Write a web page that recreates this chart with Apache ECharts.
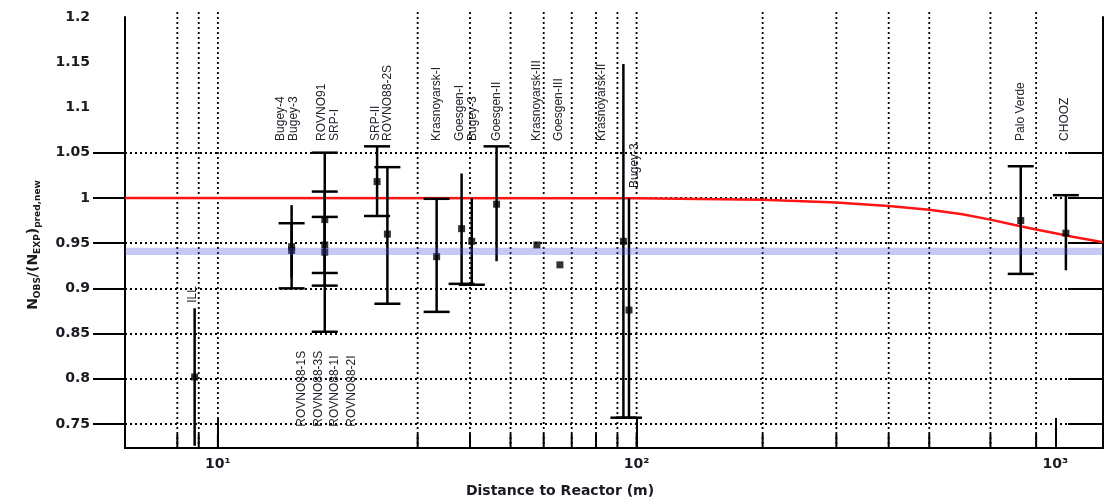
<!DOCTYPE html>
<html><head><meta charset="utf-8">
<script src="https://cdn.jsdelivr.net/npm/echarts@6/dist/echarts.min.js"></script>
<style>html,body{margin:0;padding:0;background:#fff}#c{width:1108px;height:502px}</style>
</head><body><div id="c"></div>
<script>
// ---------------- data ----------------
const yTickLabels = ['0.75','0.8','0.85','0.9','0.95','1','1.05','1.1','1.15','1.2'];
const yGridValues = [0.75,0.8,0.85,0.9,0.95,1.0,1.05];
const xGridValues = [8,9,10,30,40,50,60,70,80,90,100,200,300,400,500,700,900];
const xMajorLabels = ['10\u00b9','10\u00b2','10\u00b3'];

// experiments: distance (m), observed/predicted ratio, error-bar ends
const expDist  = [8.8, 15.0, 15.0, 18.0, 18.0, 18.0, 24.0, 25.4, 33.3, 38.2, 40.4, 46.3, 57.8, 65.6, 93.0, 95.9, 827, 1060];
const expRatio = [0.802,0.946,0.942,0.976,0.948,0.940,1.018,0.960,0.935,0.966,0.952,0.993,0.948,0.926,0.952,0.876,0.975,0.961];
const expLow   = [0.726,0.900,0.912,0.903,0.917,0.852,0.980,0.883,0.874,0.905,0.904,0.930,0.948,0.926,0.757,0.757,0.916,0.920];
const expHigh  = [0.878,0.992,0.972,1.050,0.979,1.007,1.057,1.034,0.999,1.027,1.000,1.057,0.948,0.926,1.148,1.000,1.035,1.003];

// experiment name labels and where they sit (data units)
const labelText  = ['ILL','Bugey-4','Bugey-3','ROVNO91','SRP-I','SRP-II','ROVNO88-2S','Krasnoyarsk-I','Goesgen-I','Bugey-3','Goesgen-II','Krasnoyarsk-III','Goesgen-III','Krasnoyarsk-II','Bugey-3','Palo Verde','CHOOZ','ROVNO88-1S','ROVNO88-3S','ROVNO88-1I','ROVNO88-2I'];
const labelDist  = [8.69,14.09,15.2,17.65,19.06,23.88,25.5,33.34,37.9,40.5,46.4,57.8,65.03,82.5,99.1,826.9,1053,15.87,17.36,19.06,20.89];
const labelRatio = [0.884,1.063,1.063,1.063,1.063,1.063,1.063,1.063,1.063,1.063,1.063,1.063,1.063,1.063,1.011,1.063,1.063,0.747,0.747,0.747,0.747];

// three-flavour expectation curve (red)
const redDist  = [6, 100, 200, 300, 400, 500, 600, 700, 800, 900, 1000, 1100, 1300];
const redRatio = [1.0, 0.9995, 0.998, 0.995, 0.991, 0.987, 0.982, 0.976, 0.970, 0.965, 0.961, 0.957, 0.951];

// mean band (blue)
const bandLow = 0.937, bandHigh = 0.945;

// ---------------- styling helpers ----------------
const capLow  = [0,1,0,1,1,1,1,1,1,1,1,0,0,0,1,1,1,0];
const capHigh = [0,0,1,1,1,1,1,1,1,0,0,1,0,0,0,0,1,1];
const yMin = 0.7235, yMax = 1.2, xMin = 6, xMax = 1300;
const black = '#000';
const txt = '#1a1a22';

const chart = echarts.init(document.getElementById('c'), null, {renderer: 'canvas'});

const option = {
  animation: false,
  backgroundColor: '#fff',
  grid: [
    {left: 125, right: 5, top: 17, bottom: 54, containLabel: false, outerBoundsMode: 'none'},
    {left: 125, right: 5, top: 152.7, bottom: 78, containLabel: false, outerBoundsMode: 'none'}
  ],
  xAxis: [
    {type: 'log', logBase: 10, gridIndex: 0, min: xMin, max: xMax,
     axisLine: {show: true, onZero: false, lineStyle: {color: black, width: 2}},
     axisTick: {show: true, inside: true, length: 30, lineStyle: {color: black, width: 2}},
     axisLabel: {margin: 9, color: txt, fontFamily: 'DejaVu Sans', fontWeight: 'bold', fontSize: 14,
       formatter: v => { const e = Math.log10(v); const r = Math.round(e);
         return (Math.abs(e - r) < 1e-6 && r >= 1 && r <= 3) ? xMajorLabels[r - 1] : ''; }},
     splitLine: {show: false}, minorTick: {show: false}, minorSplitLine: {show: false}},
    {type: 'value', gridIndex: 1, min: 0, max: 1, show: false}
  ],
  yAxis: [
    {type: 'value', gridIndex: 0, min: yMin, max: yMax, splitNumber: 10, position: 'left',
     axisLine: {show: true, onZero: false, lineStyle: {color: black, width: 2}},
     axisTick: {show: false}, splitLine: {show: false},
     axisLabel: {margin: 35, color: txt, fontFamily: 'DejaVu Sans', fontWeight: 'bold', fontSize: 14,
       formatter: v => { for (const s of yTickLabels) { if (Math.abs(parseFloat(s) - v) < 1e-6) return s; } return ''; }}},
    {type: 'value', gridIndex: 0, min: yMin, max: yMax, position: 'right',
     axisLine: {show: true, onZero: false, lineStyle: {color: black, width: 2}},
     axisTick: {show: false}, axisLabel: {show: false}, splitLine: {show: false}},
    {type: 'value', gridIndex: 1, min: yGridValues[0], max: yGridValues[yGridValues.length - 1], interval: 0.05, position: 'left',
     axisLine: {show: false}, axisLabel: {show: false},
     axisTick: {show: true, inside: false, length: 32, lineStyle: {color: black, width: 2}},
     splitLine: {show: true, lineStyle: {color: black, width: 1.8, type: [2, 3]}}},
    {type: 'value', gridIndex: 1, min: yGridValues[0], max: yGridValues[yGridValues.length - 1], interval: 0.05, position: 'right',
     axisLine: {show: false}, axisLabel: {show: false}, splitLine: {show: false},
     axisTick: {show: true, inside: true, length: 35, lineStyle: {color: black, width: 2}}}
  ],
  series: [
    { // vertical grid lines + minor ticks
      type: 'custom', xAxisIndex: 0, yAxisIndex: 0, z: 1, silent: true,
      data: xGridValues.map(v => [v, yMin]),
      renderItem: (params, api) => {
        const v = api.value(0);
        const top = api.coord([v, yMax]);
        const bot = api.coord([v, yMin]);
        return {type: 'group', children: [
          {type: 'line', shape: {x1: top[0], y1: top[1] - 5, x2: bot[0], y2: bot[1]},
           style: {stroke: black, lineWidth: 1.8, lineDash: [2, 3]}},
          {type: 'line', shape: {x1: bot[0], y1: bot[1], x2: bot[0], y2: bot[1] - 14},
           style: {stroke: black, lineWidth: 2}}
        ]};
      }
    },
    { // red expectation curve
      type: 'line', xAxisIndex: 0, yAxisIndex: 0, z: 2, silent: true,
      data: redDist.map((d, i) => [d, redRatio[i]]),
      showSymbol: false, symbol: 'none',
      lineStyle: {color: '#ff1414', width: 2.5}
    },
    { // error bars
      type: 'custom', xAxisIndex: 0, yAxisIndex: 0, z: 3, silent: true,
      data: expDist.map((d, i) => [d, expRatio[i], expLow[i], expHigh[i], capLow[i], capHigh[i]]),
      renderItem: (params, api) => {
        const x = api.value(0);
        const pLo = api.coord([x, api.value(2)]);
        const pHi = api.coord([x, api.value(3)]);
        const st = {stroke: black, lineWidth: 2.5};
        const hw = 13;
        const ch = [];
        if (Math.abs(pLo[1] - pHi[1]) > 0.5)
          ch.push({type: 'line', shape: {x1: pLo[0], y1: pLo[1], x2: pHi[0], y2: pHi[1]}, style: st});
        if (api.value(4)) ch.push({type: 'line', shape: {x1: pLo[0] - hw, y1: pLo[1], x2: pLo[0] + hw, y2: pLo[1]}, style: st});
        if (api.value(5)) ch.push({type: 'line', shape: {x1: pHi[0] - hw, y1: pHi[1], x2: pHi[0] + hw, y2: pHi[1]}, style: st});
        return {type: 'group', children: ch};
      }
    },
    { // central values
      type: 'scatter', xAxisIndex: 0, yAxisIndex: 0, z: 4, silent: true,
      data: expDist.map((d, i) => [d, expRatio[i]]),
      symbol: 'rect', symbolSize: 7, itemStyle: {color: black}
    },
    { // mean band
      type: 'custom', xAxisIndex: 0, yAxisIndex: 0, z: 5, silent: true,
      data: [[xMin, bandLow, bandHigh]],
      renderItem: (params, api) => {
        const cs = params.coordSys;
        const pH = api.coord([xMin, api.value(2)]);
        const pL = api.coord([xMin, api.value(1)]);
        return {type: 'rect', shape: {x: cs.x, y: pH[1], width: cs.width, height: pL[1] - pH[1]},
                style: {fill: 'rgba(72,72,222,0.3)'}};
      }
    },
    { // experiment labels
      type: 'custom', xAxisIndex: 0, yAxisIndex: 0, z: 6, silent: true,
      data: labelDist.map((d, i) => [d, labelRatio[i], i]),
      renderItem: (params, api) => {
        const p = api.coord([api.value(0), api.value(1)]);
        return {type: 'text', x: p[0], y: p[1], rotation: Math.PI / 2,
                style: {text: labelText[api.value(2)], fill: '#22222e', fontSize: 12,
                        fontFamily: 'Liberation Sans', align: 'left', verticalAlign: 'middle'}};
      }
    }
  ],
  graphic: [
    {type: 'text', x: 33, y: 245, rotation: Math.PI / 2, silent: true,
     style: {text: '{n|N}{s|OBS}{n|/(N}{s|EXP}{n|)}{s|pred,new}', align: 'center', verticalAlign: 'middle',
             rich: {n: {fontSize: 14, fontWeight: 'bold', fontFamily: 'DejaVu Sans', fill: txt, lineHeight: 18, verticalAlign: 'middle'},
                    s: {fontSize: 9, fontWeight: 'bold', fontFamily: 'DejaVu Sans', fill: txt, lineHeight: 8, verticalAlign: 'bottom'}}}},
    {type: 'text', x: 560, y: 491, silent: true,
     style: {text: 'Distance to Reactor (m)', align: 'center', verticalAlign: 'middle',
             fontSize: 14, fontWeight: 'bold', fontFamily: 'DejaVu Sans', fill: txt}}
  ]
};
chart.setOption(option);
</script></body></html>
